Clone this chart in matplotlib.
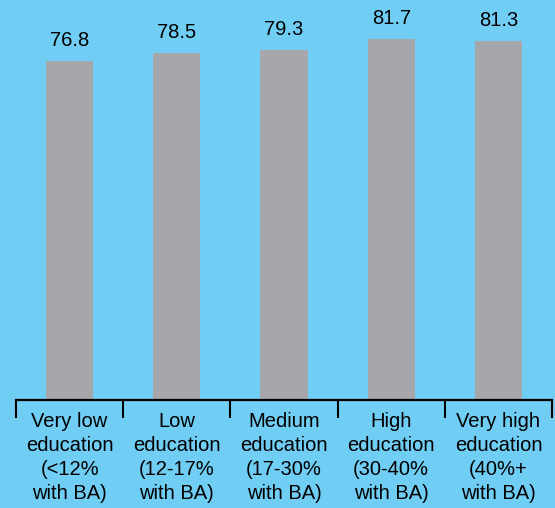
import matplotlib

matplotlib.use("Agg")

import matplotlib.pyplot as plt
import numpy as np

categories = [
    "Very low\neducation\n(<12%\nwith BA)",
    "Low\neducation\n(12-17%\nwith BA)",
    "Medium\neducation\n(17-30%\nwith BA)",
    "High\neducation\n(30-40%\nwith BA)",
    "Very high\neducation\n(40%+\nwith BA)",
]
values = [76.8, 78.5, 79.3, 81.7, 81.3]

BG = "#70CDF4"
BAR = "#A7A7AB"

plt.rcParams["font.family"] = ["Liberation Sans", "DejaVu Sans"]

fig = plt.figure(figsize=(5.55, 5.08), dpi=100, facecolor=BG)
W, H = 555, 508
ax = fig.add_axes([16 / W, 1 - 400 / H, (552 - 16) / W, 400 / H])
ax.set_facecolor(BG)

x = np.arange(len(values))
ax.bar(x, values, width=0.44, color=BAR)
for xi, v in zip(x, values):
    ax.text(xi, v + 2.4, f"{v:.1f}", ha="center", va="bottom", fontsize=14.5)

ax.set_xlim(-0.5, len(values) - 0.5)
ax.set_ylim(0, 90.5)

for side in ["top", "left", "right"]:
    ax.spines[side].set_visible(False)
ax.spines["bottom"].set_linewidth(1.6)
ax.spines["bottom"].set_color("black")
ax.yaxis.set_visible(False)

# boundary brackets as major ticks, labels sit on minor ticks at the centres
ax.set_xticks(np.arange(len(values) + 1) - 0.5)
ax.set_xticklabels([])
ax.tick_params(axis="x", which="major", length=13, width=1.5, color="black", direction="out")
ax.set_xticks(x, minor=True)
ax.set_xticklabels(categories, minor=True, fontsize=14.5, linespacing=1.34)
ax.tick_params(axis="x", which="minor", length=0, pad=8.5)

fig.savefig("out.png", dpi=100, facecolor=BG)
